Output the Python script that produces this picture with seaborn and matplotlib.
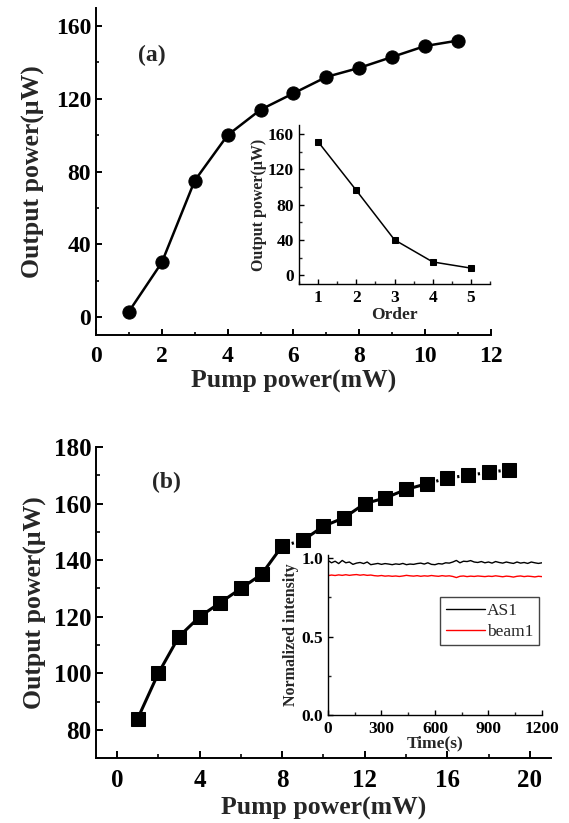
import numpy as np
import pandas as pd
import matplotlib
matplotlib.use('Agg')
import matplotlib.pyplot as plt
from matplotlib.ticker import MultipleLocator, FormatStrFormatter
import seaborn as sns

# (a) output power vs pump power
pump_a = [1, 2, 3, 4, 5, 6, 7, 8, 9, 10, 11]
power_a = [3, 30, 75, 100, 114, 123, 132, 137, 143, 149, 152]

# (a) inset: output power per order
order = [1, 2, 3, 4, 5]
power_order = [151, 96, 40, 15, 8]

# (b) output power vs pump power
pump_b = [1, 2, 3, 4, 5, 6, 7, 8, 9, 10, 11, 12, 13, 14, 15, 16, 17, 18, 19]
power_b = [84, 100, 113, 120, 125, 130, 135, 145, 147, 152, 155, 160, 162,
           165, 167, 169, 170, 171, 172]
# segments (starting pump power) that show only a dot in the original
dotted_from = [8, 15, 16, 17, 18]

# (b) inset: normalized intensity vs time (20 s steps)
time_s = np.arange(0, 1201, 20)
as1 = [0.985, 0.970, 0.980, 0.965, 0.985, 0.970, 0.975, 0.960, 0.968, 0.972,
       0.965, 0.975, 0.958, 0.962, 0.966, 0.960, 0.965, 0.962, 0.958, 0.963,
       0.960, 0.966, 0.958, 0.962, 0.960, 0.965, 0.968, 0.962, 0.970, 0.960,
       0.958, 0.965, 0.962, 0.970, 0.968, 0.975, 0.985, 0.970, 0.980, 0.978,
       0.984, 0.975, 0.972, 0.978, 0.970, 0.975, 0.968, 0.978, 0.972, 0.968,
       0.975, 0.970, 0.966, 0.975, 0.968, 0.972, 0.966, 0.975, 0.970, 0.966,
       0.970]
beam1 = [0.888, 0.892, 0.889, 0.893, 0.890, 0.894, 0.890, 0.893, 0.895, 0.891,
         0.894, 0.890, 0.892, 0.888, 0.886, 0.889, 0.885, 0.887, 0.884, 0.886,
         0.883, 0.886, 0.890, 0.887, 0.885, 0.888, 0.884, 0.887, 0.885, 0.889,
         0.886, 0.884, 0.888, 0.885, 0.887, 0.883, 0.876, 0.884, 0.886, 0.882,
         0.885, 0.883, 0.886, 0.884, 0.882, 0.885, 0.883, 0.887, 0.884, 0.881,
         0.885, 0.883, 0.879, 0.884, 0.886, 0.882, 0.885, 0.883, 0.880, 0.884,
         0.882]

sns.set_style('ticks')
plt.rcParams['font.family'] = ['Liberation Serif', 'DejaVu Serif']
plt.rcParams['font.weight'] = 'bold'
plt.rcParams['axes.labelweight'] = 'bold'
plt.rcParams['xtick.direction'] = 'in'
plt.rcParams['ytick.direction'] = 'in'
plt.rcParams['lines.scale_dashes'] = False


def style_axis(ax, lw, major, minor, size, xpad=3.5):
    sns.despine(ax=ax)
    for s in ['left', 'bottom']:
        ax.spines[s].set_linewidth(lw)
        ax.spines[s].set_color('black')
    ax.tick_params(which='major', length=major, width=lw, labelsize=size, colors='black')
    ax.tick_params(which='minor', length=minor, width=lw)
    ax.tick_params(axis='x', which='both', pad=xpad)


fig = plt.figure(figsize=(5.69, 8.23), dpi=100)

# ---- panel (a)
ax1 = fig.add_axes([0.1687, 0.5927, 0.6942, 0.3978])
sns.lineplot(x=pump_a, y=power_a, ax=ax1, color='black', lw=1.8,
             marker='o', markersize=9.5, markeredgecolor='black')
ax1.set_xlim(0, 12)
ax1.set_ylim(-10, 170)
ax1.xaxis.set_major_locator(MultipleLocator(2))
ax1.xaxis.set_minor_locator(MultipleLocator(1))
ax1.yaxis.set_major_locator(MultipleLocator(40))
ax1.yaxis.set_minor_locator(MultipleLocator(20))
style_axis(ax1, 1.4, 4.5, 2.5, 17, xpad=8)
ax1.set_xlabel('Pump power(mW)', fontsize=18.5, labelpad=2)
ax1.set_ylabel('Output power(μW)', fontsize=18.5, labelpad=8)
ax1.text(1.7, 144, '(a)', fontsize=17, fontweight='bold', ha='center', va='center')

ax1i = fig.add_axes([0.5255, 0.6549, 0.3357, 0.1932])
sns.lineplot(x=order, y=power_order, ax=ax1i, color='black', lw=1.1,
             marker='s', markersize=4.5, markeredgecolor='black')
ax1i.set_xlim(0.5, 5.5)
ax1i.set_ylim(-10, 170)
ax1i.xaxis.set_major_locator(MultipleLocator(1))
ax1i.xaxis.set_minor_locator(MultipleLocator(0.5))
ax1i.yaxis.set_major_locator(MultipleLocator(40))
ax1i.yaxis.set_minor_locator(MultipleLocator(20))
style_axis(ax1i, 1.0, 3.5, 2, 12.5, xpad=4)
ax1i.set_xlabel('Order', fontsize=12.5, labelpad=1)
ax1i.set_ylabel('Output power(μW)', fontsize=11.5, labelpad=1)

# ---- panel (b)
ax2 = fig.add_axes([0.1693, 0.0786, 0.7984, 0.3783])
for i in range(len(pump_b) - 1):
    if pump_b[i] in dotted_from:
        ls = (24.5, (1.6, 30))
    else:
        ls = '-'
    sns.lineplot(x=pump_b[i:i + 2], y=power_b[i:i + 2], ax=ax2, color='black',
                 lw=2.2, linestyle=ls)
sns.lineplot(x=pump_b, y=power_b, ax=ax2, color='black', lw=0,
             marker='s', markersize=9.5, markeredgecolor='black')
ax2.set_xlim(-1, 21)
ax2.set_ylim(70, 180)
ax2.xaxis.set_major_locator(MultipleLocator(4))
ax2.xaxis.set_minor_locator(MultipleLocator(2))
ax2.yaxis.set_major_locator(MultipleLocator(20))
ax2.yaxis.set_minor_locator(MultipleLocator(10))
style_axis(ax2, 1.4, 5, 3, 18, xpad=8)
ax2.set_xlabel('Pump power(mW)', fontsize=18.5, labelpad=3)
ax2.set_ylabel('Output power(μW)', fontsize=18.5, labelpad=5)
ax2.text(2.4, 167.5, '(b)', fontsize=17, fontweight='bold', ha='center', va='center')

df = pd.DataFrame({
    'time': np.concatenate([time_s, time_s]),
    'intensity': as1 + beam1,
    'signal': ['AS1'] * len(as1) + ['beam1'] * len(beam1),
})
ax2i = fig.add_axes([0.5764, 0.1312, 0.3761, 0.1945])
sns.lineplot(data=df, x='time', y='intensity', hue='signal', ax=ax2i,
             palette={'AS1': 'black', 'beam1': 'red'}, lw=1.0, estimator=None)
ax2i.set_xlim(0, 1200)
ax2i.set_ylim(0, 1.02)
ax2i.xaxis.set_major_locator(MultipleLocator(300))
ax2i.xaxis.set_minor_locator(MultipleLocator(150))
ax2i.yaxis.set_major_locator(MultipleLocator(0.5))
ax2i.yaxis.set_minor_locator(MultipleLocator(0.25))
ax2i.yaxis.set_major_formatter(FormatStrFormatter('%.1f'))
style_axis(ax2i, 1.0, 3.5, 2, 12.5, xpad=4)
ax2i.set_xlabel('Time(s)', fontsize=12.5, labelpad=-1)
ax2i.set_ylabel('Normalized intensity', fontsize=11.5, labelpad=2)
leg = ax2i.legend(loc='center right', bbox_to_anchor=(0.985, 0.585),
                  fancybox=False, framealpha=1, edgecolor='#444444',
                  prop={'family': 'Liberation Serif', 'weight': 'normal', 'size': 12.5},
                  handlelength=2.3, handletextpad=0.1, borderpad=0.3,
                  labelspacing=0.3, borderaxespad=0)
leg.get_frame().set_linewidth(1.0)

fig.savefig('out.png', dpi=100)
